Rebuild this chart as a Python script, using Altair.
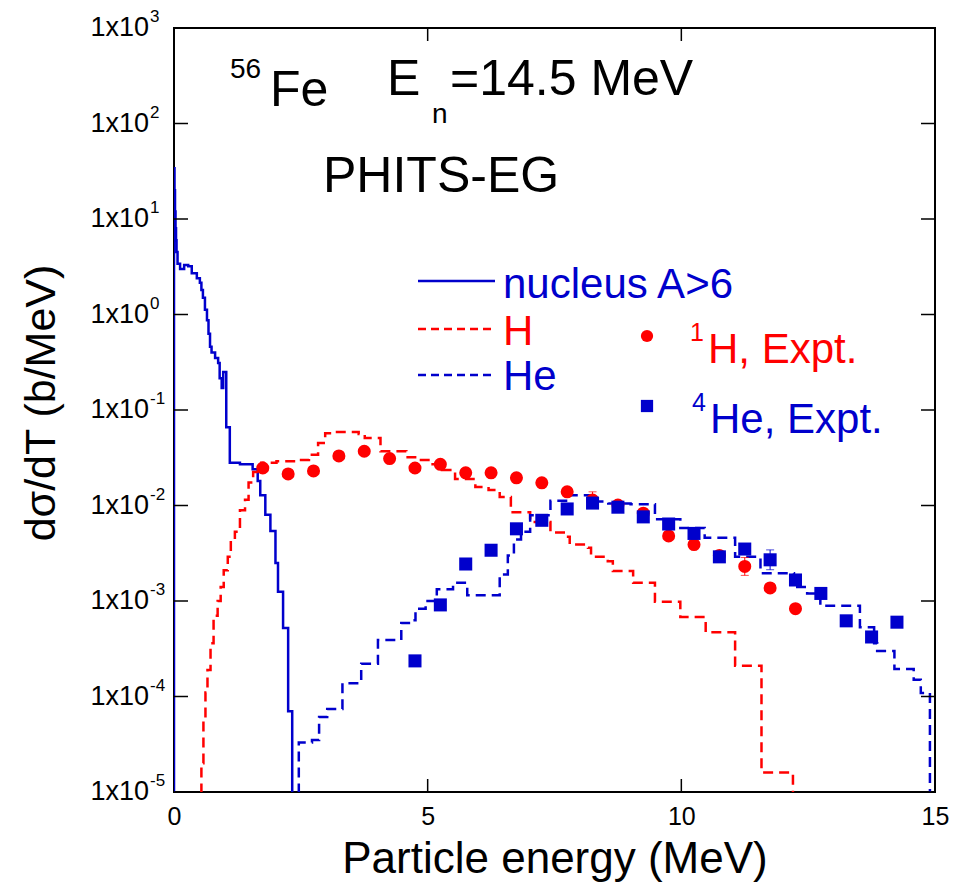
import altair as alt
import pandas as pd

RED = "#ff0000"
BLUE = "#0000cc"
FONT = "Liberation Sans"

# ---- simulation: nucleus A>6 (step histogram, bin start energy, value) ----
nuc_E = [0.0, 0.0, 0.01, 0.02, 0.03, 0.04, 0.05, 0.07, 0.12, 0.20,
         0.28, 0.35, 0.45, 0.51, 0.54, 0.57, 0.61, 0.65, 0.68, 0.71,
         0.74, 0.81, 0.87, 0.90, 0.94, 0.97, 1.03, 1.10, 1.30, 1.55,
         1.65, 1.70, 1.80, 1.90, 2.00, 2.05, 2.15, 2.25, 2.33]
nuc_v = [1e-6, 34, 20, 12, 8, 6, 4.5, 3.4, 3.0, 3.3,
         3.2, 2.7, 2.4, 2.15, 1.8, 1.5, 1.12, 0.87, 0.63, 0.46,
         0.40, 0.35, 0.31, 0.215, 0.17, 0.25, 0.066, 0.028, 0.027, 0.024,
         0.018, 0.0128, 0.008, 0.0054, 0.0025, 0.00125, 0.00052, 7e-5, 1e-6]

# ---- simulation: H ----
h_sim_E = [0.50, 0.54, 0.58, 0.62, 0.66, 0.72, 0.78, 0.86, 0.92, 0.98,
           1.06, 1.12, 1.20, 1.30, 1.40, 1.47, 1.56, 1.63, 1.72, 2.02,
           2.42, 2.66, 2.84, 2.98, 3.14, 3.64, 3.76, 4.07, 4.58, 4.82,
           5.06, 5.28, 5.54, 5.94, 6.20, 6.42, 6.64, 7.02, 7.42, 7.74,
           7.80, 8.16, 8.22, 8.55, 8.65, 9.05, 9.48, 9.98, 10.48, 11.06,
           11.58, 12.20]
h_sim_v = [1e-6, 2e-5, 6e-5, 1.1e-4, 1.9e-4, 3.6e-4, 7e-4, 1.0e-3, 1.4e-3, 2.1e-3,
           2.9e-3, 4.4e-3, 5.3e-3, 8.9e-3, 1.15e-2, 1.74e-2, 2.24e-2, 2.6e-2, 2.8e-2, 2.9e-2,
           3.0e-2, 3.4e-2, 4.5e-2, 5.7e-2, 5.9e-2, 5.6e-2, 5.1e-2, 3.7e-2, 3.2e-2, 3.0e-2,
           2.7e-2, 2.35e-2, 1.9e-2, 1.56e-2, 1.45e-2, 1.23e-2, 8.5e-3, 6.7e-3, 5.2e-3, 4.7e-3,
           3.9e-3, 3.6e-3, 2.9e-3, 2.6e-3, 2.06e-3, 1.55e-3, 9.8e-4, 6.8e-4, 4.7e-4, 2.1e-4,
           1.6e-5, 1e-6]

# ---- simulation: He ----
he_sim_E = [2.42, 2.46, 2.72, 2.86, 3.02, 3.32, 3.69, 4.02, 4.48, 4.66,
            4.76, 4.96, 5.18, 5.50, 5.78, 6.42, 6.58, 6.70, 6.84, 7.02,
            7.42, 7.76, 8.22, 8.56, 9.00, 9.48, 9.98, 10.46, 11.06, 11.56,
            12.22, 12.48, 12.74, 13.52, 13.80, 13.86, 14.20, 14.58, 14.72, 14.90]
he_sim_v = [1e-6, 3.3e-5, 3.5e-5, 6.1e-5, 7.4e-5, 1.38e-4, 2.2e-4, 3.9e-4, 5.9e-4, 6.3e-4,
            8.3e-4, 1.0e-3, 1.33e-3, 1.55e-3, 1.15e-3, 1.9e-3, 3.0e-3, 4.4e-3, 5.3e-3, 7.9e-3,
            1.12e-2, 1.28e-2, 1.1e-2, 1.05e-2, 1.03e-2, 7.2e-3, 5.8e-3, 4.6e-3, 2.9e-3, 1.95e-3,
            1.4e-3, 1.2e-3, 8.9e-4, 5.3e-4, 3.6e-4, 3.0e-4, 1.94e-4, 1.5e-4, 1.09e-4, 1e-6]

# ---- experiment: 1H ----
h_exp_E = [1.75, 2.25, 2.75, 3.25, 3.75, 4.25, 4.75, 5.25, 5.75, 6.25, 6.75,
           7.25, 7.75, 8.25, 8.75, 9.25, 9.75, 10.25, 10.75, 11.25, 11.75, 12.25]
h_exp_v = [2.47e-2, 2.14e-2, 2.3e-2, 3.3e-2, 3.7e-2, 3.1e-2, 2.47e-2, 2.7e-2, 2.2e-2, 2.2e-2, 1.95e-2,
           1.73e-2, 1.39e-2, 1.14e-2, 1.01e-2, 8.3e-3, 4.8e-3, 3.9e-3, 3.0e-3, 2.3e-3, 1.37e-3, 8.3e-4]
h_exp_err = [1.05, 1.05, 1.05, 1.05, 1.05, 1.05, 1.05, 1.05, 1.05, 1.05, 1.05,
             1.05, 1.06, 1.22, 1.06, 1.06, 1.07, 1.07, 1.08, 1.24, 1.08, 1.08]

# ---- experiment: 4He ----
he_exp_E = [4.75, 5.25, 5.75, 6.25, 6.75, 7.25, 7.75, 8.25, 8.75, 9.25,
            9.75, 10.25, 10.75, 11.25, 11.75, 12.25, 12.75, 13.25, 13.75, 14.25]
he_exp_v = [2.36e-4, 9.1e-4, 2.44e-3, 3.4e-3, 5.7e-3, 7.0e-3, 9.2e-3, 1.06e-2, 9.6e-3, 7.6e-3,
            6.4e-3, 5.1e-3, 2.9e-3, 3.5e-3, 2.7e-3, 1.66e-3, 1.2e-3, 6.2e-4, 4.2e-4, 6.0e-4]
he_exp_err = [1.06, 1.06, 1.06, 1.06, 1.06, 1.06, 1.06, 1.06, 1.06, 1.08,
              1.08, 1.08, 1.08, 1.08, 1.27, 1.08, 1.08, 1.10, 1.12, 1.10]

# ---- axis ticks / labels ----
y_ticks = [1e-5, 1e-4, 1e-3, 1e-2, 1e-1, 1e0, 1e1, 1e2, 1e3]
y_tick_base = ["1x10"] * 9
y_tick_exp = ["-5", "-4", "-3", "-2", "-1", "0", "1", "2", "3"]
x_ticks = [0, 5, 10, 15]
x_inner_ticks = [5, 10]

W, H = 761, 764

xs = alt.Scale(domain=[0, 15], nice=False, zero=False)
ys = alt.Scale(type="log", domain=[1e-5, 1e3], nice=False)
x_axis = alt.Axis(values=x_ticks, ticks=False, domain=False, grid=False,
                  labelFontSize=25, labelFont=FONT, labelColor="black",
                  labelPadding=12, labelFlush=False, labelOverlap=False, format="d",
                  title="Particle energy (MeV)", titleFontSize=44, titleFont=FONT,
                  titleFontWeight="normal", titleColor="black", titlePadding=8)


def X(field):
    return alt.X(field, type="quantitative", scale=xs, axis=x_axis)


def Y(field):
    return alt.Y(field, type="quantitative", scale=ys, axis=None)


def steps(E, v):
    return pd.DataFrame({"E": E, "v": v, "i": list(range(len(E)))})


nuc = alt.Chart(steps(nuc_E, nuc_v)).mark_line(
    interpolate="step-after", color=BLUE, strokeWidth=2.5, clip=True
).encode(x=X("E"), y=Y("v"), order="i:Q")

hsim = alt.Chart(steps(h_sim_E, h_sim_v)).mark_line(
    interpolate="step-after", color=RED, strokeWidth=2.5, strokeDash=[10, 6], clip=True
).encode(x=X("E"), y=Y("v"), order="i:Q")

hesim = alt.Chart(steps(he_sim_E, he_sim_v)).mark_line(
    interpolate="step-after", color=BLUE, strokeWidth=2.5, strokeDash=[10, 6], clip=True
).encode(x=X("E"), y=Y("v"), order="i:Q")

hexp_df = pd.DataFrame({"E": h_exp_E, "v": h_exp_v,
                        "lo": [v / e for v, e in zip(h_exp_v, h_exp_err)],
                        "hi": [v * e for v, e in zip(h_exp_v, h_exp_err)]})
heexp_df = pd.DataFrame({"E": he_exp_E, "v": he_exp_v,
                         "lo": [v / e for v, e in zip(he_exp_v, he_exp_err)],
                         "hi": [v * e for v, e in zip(he_exp_v, he_exp_err)]})


def errbars(df, color):
    bar = alt.Chart(df).mark_rule(color=color, strokeWidth=1).encode(
        x=X("E"), y=Y("lo"), y2="hi")
    caps_df = pd.concat([df[["E", "lo"]].rename(columns={"lo": "c"}),
                         df[["E", "hi"]].rename(columns={"hi": "c"})])
    cap = alt.Chart(caps_df).mark_tick(color=color, orient="horizontal", size=8,
                                        thickness=1).encode(x=X("E"), y=Y("c"))
    return bar, cap


hbar, hcap = errbars(hexp_df, RED)
hebar, hecap = errbars(heexp_df, BLUE)

hpts = alt.Chart(hexp_df).mark_point(shape="circle", filled=True, size=170,
                                     color=RED, opacity=1).encode(x=X("E"), y=Y("v"))
hepts = alt.Chart(heexp_df).mark_point(shape="square", filled=True, size=170,
                                       color=BLUE, opacity=1).encode(x=X("E"), y=Y("v"))

# ---- frame ticks (inward) ----
ytick_df = pd.DataFrame({"v": y_ticks, "base": y_tick_base, "exp": y_tick_exp})
xtick_df = pd.DataFrame({"E": x_inner_ticks})
left_ticks = alt.Chart(ytick_df).mark_rule(color="black", strokeWidth=1.5).encode(
    y=Y("v"), x=alt.value(0), x2=alt.value(14))
right_ticks = alt.Chart(ytick_df).mark_rule(color="black", strokeWidth=1.5).encode(
    y=Y("v"), x=alt.value(W - 14), x2=alt.value(W))
bot_ticks = alt.Chart(xtick_df).mark_rule(color="black", strokeWidth=1.5).encode(
    x=X("E"), y=alt.value(H), y2=alt.value(H - 13))
top_ticks = alt.Chart(xtick_df).mark_rule(color="black", strokeWidth=1.5).encode(
    x=X("E"), y=alt.value(0), y2=alt.value(13))

ylab_base = alt.Chart(ytick_df).mark_text(align="right", baseline="middle", font=FONT,
                                          fontSize=27, color="black").encode(
    y=Y("v"), x=alt.value(-25), text="base:N")
ylab_exp = alt.Chart(ytick_df).mark_text(align="left", baseline="middle", font=FONT,
                                         fontSize=17, color="black", dy=-11).encode(
    y=Y("v"), x=alt.value(-24), text="exp:N")

one = pd.DataFrame({"a": [0]})


def txt(s, x, y, size, color="black", align="left", angle=0):
    kw = dict(align=align, baseline="alphabetic", font=FONT, fontSize=size, color=color)
    if angle:
        kw["angle"] = angle
        kw["baseline"] = "middle"
    return alt.Chart(one).mark_text(**kw).encode(
        x=alt.value(x), y=alt.value(y), text=alt.value(s))


ytitle = txt("dσ/dT (b/MeV)", -132, 375, 43, align="center", angle=270)

annots = [
    txt("56", 56, 50, 28),
    txt("Fe", 96, 78, 50),
    txt("E", 213, 67, 50),
    txt("n", 258, 95, 28),
    txt("=14.5 MeV", 276, 67, 50),
    txt("PHITS-EG", 149, 164, 50),
]


def legline(y, color, dash=None):
    kw = dict(color=color, strokeWidth=2.5)
    if dash:
        kw["strokeDash"] = dash
    return alt.Chart(one).mark_rule(**kw).encode(
        x=alt.value(244), x2=alt.value(321), y=alt.value(y))


legend = [
    legline(253, BLUE),
    txt("nucleus A>6", 329, 270, 42, BLUE),
    legline(301, RED, [8, 5]),
    txt("H", 329, 317, 42, RED),
    legline(347, BLUE, [8, 5]),
    txt("He", 329, 362, 42, BLUE),
    alt.Chart(one).mark_point(shape="circle", filled=True, size=150, color=RED, opacity=1).encode(
        x=alt.value(473), y=alt.value(308)),
    txt("1", 516, 313, 25, RED),
    txt("H, Expt.", 534, 335, 42, RED),
    alt.Chart(one).mark_point(shape="square", filled=True, size=150, color=BLUE, opacity=1).encode(
        x=alt.value(473), y=alt.value(378)),
    txt("4", 518, 383, 25, BLUE),
    txt("He, Expt.", 536, 405, 42, BLUE),
]

chart = alt.layer(
    nuc, hsim, hesim, hbar, hcap, hpts, hebar, hecap, hepts,
    left_ticks, right_ticks, bot_ticks, top_ticks, ylab_base, ylab_exp, ytitle,
    *annots, *legend
).properties(
    width=W, height=H,
    autosize=alt.AutoSizeParams(type="none"),
    padding={"left": 166, "top": 20, "right": 14, "bottom": 92},
    background="white",
).configure_view(stroke="black", strokeWidth=2)

chart.save("out.html", embed_options={"renderer": "svg", "actions": False})
